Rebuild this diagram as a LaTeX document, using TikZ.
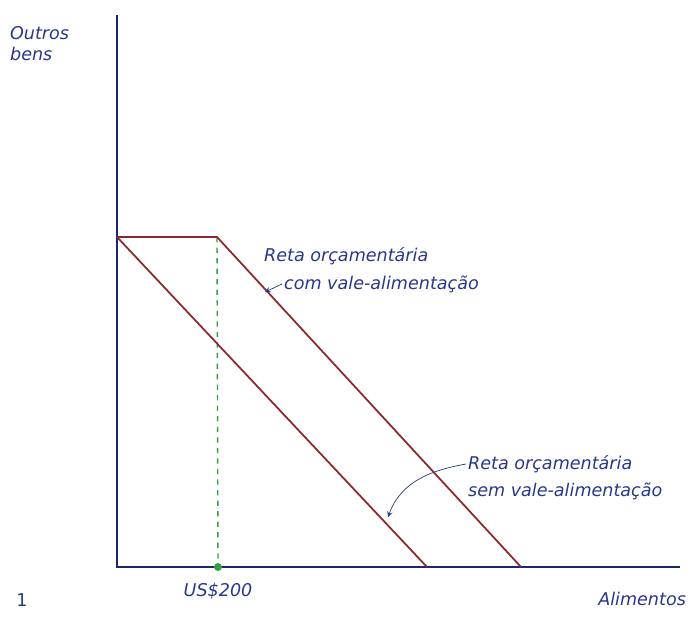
\documentclass[tikz,border=0pt]{standalone}
\usepackage{fontspec}
\setmainfont{DejaVu Sans}
\usetikzlibrary{positioning}
\definecolor{ink}{RGB}{40,55,140}
\definecolor{axisblue}{RGB}{30,40,110}
\definecolor{budget}{RGB}{140,40,45}
\definecolor{voucher}{RGB}{50,160,60}
\tikzset{
  axisline/.style={axisblue, line width=1.2pt},
  budgetline/.style={budget, line width=1pt},
  handtext/.style={ink, font=\normalsize\itshape, align=left, inner sep=1pt},
}
\begin{document}
\begin{tikzpicture}[x=0.02cm, y=-0.02cm]
\useasboundingbox (0,0) rectangle (692,616);
\coordinate (origin) at (117,567);
\coordinate (ytop) at (117,15);
\coordinate (xend) at (680,567);
\coordinate (yint) at (117,237);
\coordinate (kink) at (217,237);
\coordinate (xsem) at (427,567);
\coordinate (xcom) at (521,567);
\coordinate (vale) at (218,567);
\draw[axisline] (ytop) -- (origin) -- (xend);
\draw[voucher, dashed, line width=0.8pt] (kink) -- (vale);
\fill[voucher] (vale) circle (4);
\draw[budgetline] (yint) -- (xsem);
\draw[budgetline] (yint) -- (kink) -- (xcom);
\node[handtext, anchor=north west] (ylabel) at (8,24) {Outros\\bens};
\node[handtext, anchor=north east] (xlabel) at (688,590) {Alimentos};
\node[handtext, below=8pt of vale] (valelabel) {US\$200};
\node[handtext, font=\normalsize\upshape] (figno) at (22,600) {1};
\node[handtext, anchor=west] (comtop) at (262,256) {Reta orçamentária};
\node[handtext, anchor=west] (combot) at (282,284) {com vale-alimentação};
\coordinate (comtip) at (265,292);
\draw[ink, -stealth] (combot.west) -- (comtip);
\node[handtext, anchor=west] (semtop) at (466,464) {Reta orçamentária};
\node[handtext, anchor=west] (sembot) at (466,491) {sem vale-alimentação};
\coordinate (semtip) at (388,517);
\draw[ink, -stealth] (semtop.west) to[out=190, in=70] (semtip);
\end{tikzpicture}
\end{document}
